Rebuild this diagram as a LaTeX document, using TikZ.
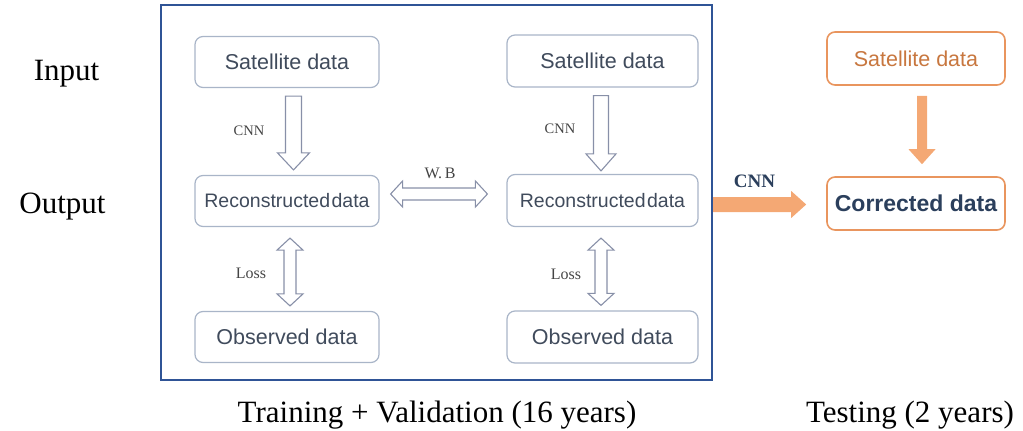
\documentclass[tikz,border=0pt]{standalone}
\usepackage{fontspec}
\setmainfont{Liberation Serif}
\setsansfont{Liberation Sans}
\usetikzlibrary{calc}

\definecolor{framecol}{HTML}{2F5496}
\definecolor{boxline}{HTML}{A9B5C8}
\definecolor{boxtext}{HTML}{404B5C}
\definecolor{arrowline}{HTML}{8890A8}
\definecolor{labeltext}{HTML}{444444}
\definecolor{orangefill}{HTML}{F4A874}
\definecolor{orangeline}{HTML}{E9955E}
\definecolor{orangetext}{HTML}{C8773F}
\definecolor{navytext}{HTML}{2B3F5C}

% vertical block arrow pointing down: style, start, end, half shaft, half head, head length
\newcommand\blockdown[6]{%
  \draw[#1] let \p1=(#2), \p2=(#3) in
    (\x1-#4,\y1) -- (\x1+#4,\y1) -- (\x1+#4,\y2+#6) -- (\x1+#5,\y2+#6)
    -- (\x1,\y2) -- (\x1-#5,\y2+#6) -- (\x1-#4,\y2+#6) -- cycle;}
% vertical block arrow with heads at both ends
\newcommand\blockvv[6]{%
  \draw[#1] let \p1=(#2), \p2=(#3) in
    (\x1,\y1) -- (\x1+#5,\y1-#6) -- (\x1+#4,\y1-#6) -- (\x1+#4,\y2+#6)
    -- (\x1+#5,\y2+#6) -- (\x1,\y2) -- (\x1-#5,\y2+#6) -- (\x1-#4,\y2+#6)
    -- (\x1-#4,\y1-#6) -- (\x1-#5,\y1-#6) -- cycle;}
% horizontal block arrow with heads at both ends
\newcommand\blockhh[6]{%
  \draw[#1] let \p1=(#2), \p2=(#3) in
    (\x1,\y1) -- (\x1+#6,\y1+#5) -- (\x1+#6,\y1+#4) -- (\x2-#6,\y1+#4)
    -- (\x2-#6,\y1+#5) -- (\x2,\y1) -- (\x2-#6,\y1-#5) -- (\x2-#6,\y1-#4)
    -- (\x1+#6,\y1-#4) -- (\x1+#6,\y1-#5) -- cycle;}
% horizontal block arrow pointing right
\newcommand\blockright[6]{%
  \draw[#1] let \p1=(#2), \p2=(#3) in
    (\x1,\y1+#4) -- (\x2-#6,\y1+#4) -- (\x2-#6,\y1+#5) -- (\x2,\y1)
    -- (\x2-#6,\y1-#5) -- (\x2-#6,\y1-#4) -- (\x1,\y1-#4) -- cycle;}

\begin{document}
\begin{tikzpicture}[x=1pt,y=-1pt,
  databox/.style={draw=boxline,line width=1.2pt,rounded corners=8pt,fill=white,
    inner sep=0pt,text=boxtext,font=\sffamily\fontsize{21.5}{24}\selectfont},
  leftcol/.style={databox,minimum width=184pt,minimum height=51pt},
  rightcol/.style={databox,minimum width=191pt,minimum height=52pt},
  orangebox/.style={draw=orangeline,line width=1.6pt,rounded corners=8pt,fill=white,
    inner sep=0pt,minimum width=178pt,minimum height=53pt},
  recon/.style={font=\sffamily\fontsize{19.5}{22}\selectfont},
  hollow/.style={draw=arrowline,line width=1.1pt,fill=white,line join=miter},
  solidarrow/.style={fill=orangefill,draw=none},
  steplabel/.style={text=labeltext,inner sep=0pt,anchor=base},
  sidelabel/.style={inner sep=0pt,anchor=base,font=\fontsize{31}{34}\selectfont}]

\useasboundingbox (0,0) rectangle (1023,431);

% training / validation frame
\node[draw=framecol,line width=2.2pt,inner sep=0pt,minimum width=551pt,minimum height=375pt]
  (frame) at (436.5,192.5) {};

% row labels
\node[sidelabel] (input) at (66.5,80) {Input};
\node[sidelabel] (output) at (62.5,213) {Output};

% left column
\node[leftcol] (sl) at (287,62) {Satellite data};
\node[leftcol,recon] (rl) at (287,201) {Reconstructed\hspace{1.5pt}data};
\node[leftcol] (ol) at (287,337) {Observed data};

% right column
\node[rightcol] (sr) at (602.5,61) {Satellite data};
\node[rightcol,recon] (rr) at (602.5,200.5) {Reconstructed\hspace{1.5pt}data};
\node[rightcol] (or) at (602.5,337) {Observed data};

% testing column
\node[orangebox,text=orangetext,font=\sffamily\fontsize{21.5}{24}\selectfont]
  (st) at (916,58.5) {Satellite data};
\node[orangebox,text=navytext,font=\sffamily\bfseries\fontsize{23}{26}\selectfont]
  (ct) at (916,203.5) {Corrected data};

% CNN arrows (satellite -> reconstructed)
\coordinate (c1s) at ($(sl.south)+(6.5,8)$);
\coordinate (c1e) at ($(rl.north)+(6.5,-5)$);
\blockdown{hollow}{c1s}{c1e}{8pt}{16pt}{17pt}
\coordinate (c2s) at ($(sr.south)+(-1.5,8)$);
\coordinate (c2e) at ($(rr.north)+(-1.5,-3)$);
\blockdown{hollow}{c2s}{c2e}{7.5pt}{15pt}{17pt}

% loss arrows (reconstructed <-> observed)
\coordinate (l1s) at ($(rl.south)+(3,11)$);
\coordinate (l1e) at ($(ol.north)+(3,-5)$);
\blockvv{hollow}{l1s}{l1e}{6pt}{13pt}{12pt}
\coordinate (l2s) at ($(rr.south)+(-1.5,11)$);
\coordinate (l2e) at ($(or.north)+(-1.5,-5)$);
\blockvv{hollow}{l2s}{l2e}{6pt}{13pt}{12pt}

% weight exchange
\coordinate (wbs) at ($(rl.east)+(11,-7)$);
\coordinate (wbe) at ($(rr.west)+(-19,-7)$);
\blockhh{hollow}{wbs}{wbe}{6pt}{13pt}{12pt}

% trained network applied to the test period
\coordinate (cns) at ($(frame.east)+(0,12)$);
\coordinate (cne) at ($(ct.west)+(-20,1)$);
\blockright{solidarrow}{cns}{cne}{7.5pt}{13.5pt}{15pt}
\coordinate (tds) at ($(st.south)+(6,10)$);
\coordinate (tde) at ($(ct.north)+(6,-12)$);
\blockdown{solidarrow}{tds}{tde}{5pt}{13.5pt}{15pt}

% arrow labels
\node[steplabel,font=\fontsize{14.5}{16}\selectfont] (cnn1) at (249,135) {CNN};
\node[steplabel,font=\fontsize{14.5}{16}\selectfont] (cnn2) at (560,133) {CNN};
\node[steplabel,font=\fontsize{16}{18}\selectfont] (loss1) at (251,278) {Loss};
\node[steplabel,font=\fontsize{16}{18}\selectfont] (loss2) at (566,279) {Loss};
\node[steplabel,font=\fontsize{16}{18}\selectfont] (wb) at (440,178) {W.\,B};
\node[inner sep=0pt,anchor=base,text=navytext,font=\bfseries\fontsize{19}{21}\selectfont]
  (cnn3) at (754.5,187) {CNN};

% period captions
\node[sidelabel] (train) at (437,422) {Training + Validation (16 years)};
\node[sidelabel] (test) at (910,422) {Testing (2 years)};

\end{tikzpicture}
\end{document}
